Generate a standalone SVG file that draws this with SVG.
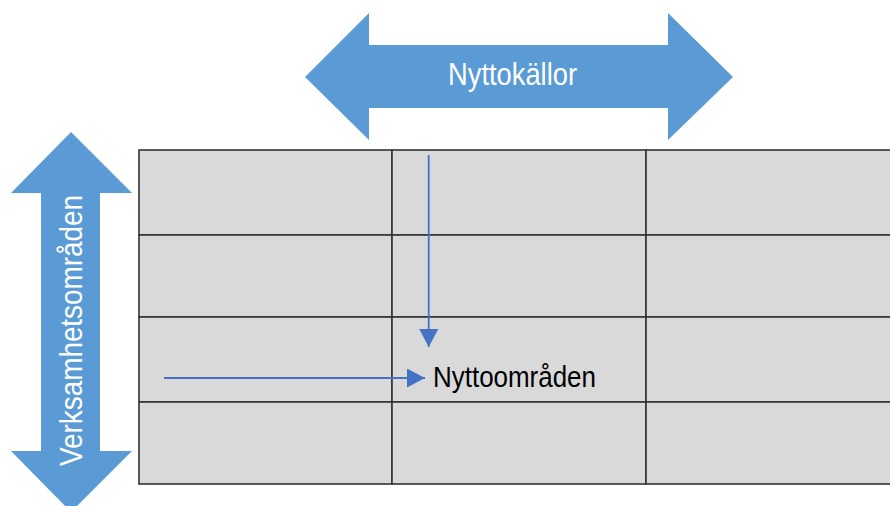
<svg xmlns="http://www.w3.org/2000/svg" width="890" height="506" viewBox="0 0 890 506">
<style>
.big{fill:#5B9BD5}
.lbl{fill:#FFFFFF;font-family:"Liberation Sans",Arial,sans-serif}
.cell{fill:#D9D9D9;stroke:#333333;stroke-width:1.6}
.conn{stroke:#4472C4;stroke-width:1.8;fill:none}
.txt{fill:#000000;font-family:"Liberation Sans",Arial,sans-serif}
</style>
<defs>
<marker id="ah" markerWidth="18" markerHeight="19" viewBox="0 0 18 19" refX="18" refY="9.5" orient="auto" markerUnits="userSpaceOnUse">
<path d="M0,0 L18,9.5 L0,19 Z" fill="#4472C4"/>
</marker>
</defs>
<g id="grid">
<rect class="cell" x="139" y="150" width="253" height="85"/>
<rect class="cell" x="392" y="150" width="254" height="85"/>
<rect class="cell" x="646" y="150" width="260" height="85"/>
<rect class="cell" x="139" y="235" width="253" height="82"/>
<rect class="cell" x="392" y="235" width="254" height="82"/>
<rect class="cell" x="646" y="235" width="260" height="82"/>
<rect class="cell" x="139" y="317" width="253" height="85"/>
<rect class="cell" x="392" y="317" width="254" height="85"/>
<rect class="cell" x="646" y="317" width="260" height="85"/>
<rect class="cell" x="139" y="402" width="253" height="82"/>
<rect class="cell" x="392" y="402" width="254" height="82"/>
<rect class="cell" x="646" y="402" width="260" height="82"/>
</g>
<g id="nyttokallor">
<path class="big" d="M305,77 L369,13 L369,45 L668,45 L668,13 L733,77 L668,140 L668,108 L369,108 L369,140 Z"/>
<text class="lbl" x="448" y="85" font-size="31" textLength="129" lengthAdjust="spacingAndGlyphs">Nyttokällor</text>
</g>
<g id="verksamhetsomraden">
<path class="big" d="M71,132 L132,193 L100,193 L100,451 L132,451 L71,512 L11,451 L41,451 L41,193 L11,193 Z"/>
<text class="lbl" transform="translate(82,466) rotate(-90)" x="0" y="0" font-size="32" textLength="271" lengthAdjust="spacingAndGlyphs">Verksamhetsområden</text>
</g>
<g id="nyttoomraden">
<text class="txt" x="433" y="387" font-size="30" textLength="163" lengthAdjust="spacingAndGlyphs">Nyttoområden</text>
</g>
<g id="connectors">
<line class="conn" x1="428.7" y1="155" x2="428.7" y2="347" marker-end="url(#ah)"/>
<line class="conn" x1="164" y1="378" x2="425" y2="378" marker-end="url(#ah)"/>
</g>
</svg>
